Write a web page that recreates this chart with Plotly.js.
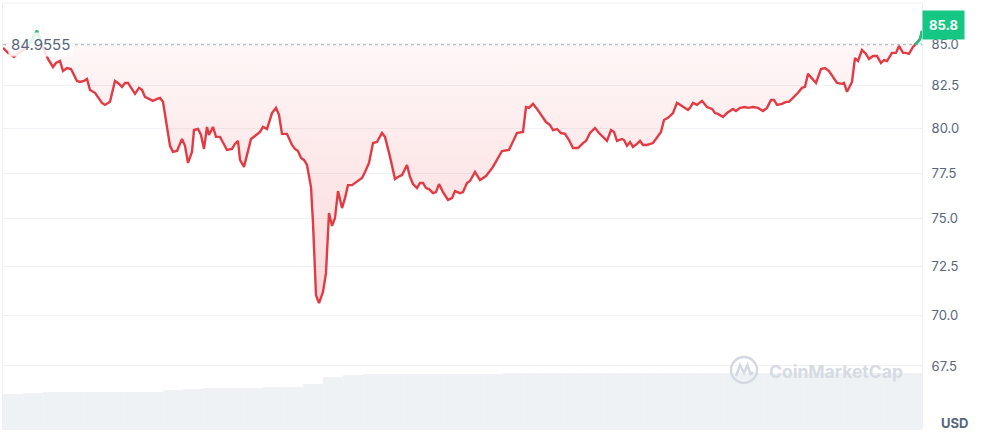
<!DOCTYPE html>
<html><head><meta charset="utf-8">
<script src="https://cdn.plot.ly/plotly-3.0.1.min.js"></script>
<style>html,body{margin:0;padding:0;background:#fff}#chart{width:984px;height:436px}</style>
</head><body><div id="chart"></div>
<script>
// reference (open) price
const basePrice = 84.9555;
const lastLabel = '85.8';
// time (arbitrary units across the window)
const time = [0,5,11,17,23,26,29,34,39,45,50,53,57,60,64,68,70,74,77,81,84,87,92,95,99,102,107,112,115,119,122,125,129,132,136,139,142,146,150,154,157,160,163,167,170,174,179,182,185,189,191,195,198,201,204,206,210,213,217,220,224,229,232,235,237,241,248,252,257,260,264,269,273,276,279,284,289,292,295,298,301,304,308,310,313,316,320,323,326,329,332,335,339,342,345,349,352,355,359,362,366,370,374,379,382,387,392,395,399,404,407,410,414,417,420,423,426,430,433,436,440,445,449,452,457,460,464,467,472,477,483,490,494,499,506,510,514,520,523,526,530,534,539,543,547,550,554,558,562,566,570,575,580,583,587,592,596,600,604,608,611,614,619,621,624,627,630,634,637,640,644,650,654,658,661,665,670,674,679,685,687,690,694,699,704,709,712,715,720,724,730,733,737,742,745,750,755,760,764,768,771,774,779,783,786,791,795,799,802,805,809,813,818,822,826,830,834,839,841,844,849,852,855,859,863,866,870,874,878,881,884,889,893,896,900,903,906,910,912,914,917,919];
// price in USD
const price = [84.76,84.46,84.21,84.52,84.76,84.96,85.24,85.80,84.96,84.09,83.61,83.85,83.97,83.37,83.55,83.49,83.25,82.78,82.72,82.78,82.90,82.25,82.08,81.84,81.49,81.37,81.55,82.78,82.66,82.43,82.66,82.66,82.25,82.02,82.37,82.25,81.84,81.72,81.61,81.72,81.78,81.55,80.50,79.02,78.68,78.73,79.41,79.02,78.06,78.68,79.92,79.98,79.64,78.85,80.10,79.64,80.10,79.53,79.53,79.24,78.79,78.85,79.13,79.30,78.23,77.84,79.41,79.58,79.81,80.10,79.98,80.90,81.20,80.79,79.70,79.70,79.07,78.85,78.73,78.34,78.23,77.95,76.72,74.78,71.01,70.61,71.17,72.15,75.31,74.62,75.04,76.50,75.58,76.12,76.83,76.83,76.95,77.06,77.22,77.56,78.06,79.18,79.24,79.75,79.53,78.40,77.17,77.28,77.39,77.95,77.28,76.89,76.67,76.95,76.95,76.67,76.61,76.39,76.45,76.89,76.45,76.02,76.12,76.50,76.39,76.45,76.95,77.06,77.56,77.11,77.33,77.84,78.23,78.73,78.79,79.24,79.75,79.81,81.25,81.20,81.43,81.14,80.73,80.38,80.21,79.92,79.98,79.75,79.70,79.35,78.90,78.90,79.18,79.30,79.75,80.04,79.75,79.53,79.30,79.92,79.81,79.30,79.41,79.35,79.02,79.24,78.96,79.13,79.30,79.07,79.07,79.18,79.53,79.81,80.50,80.62,80.90,81.49,81.31,81.08,81.20,81.49,81.37,81.61,81.25,81.14,80.90,80.85,80.67,80.90,81.14,81.02,81.20,81.25,81.20,81.25,81.20,81.02,81.20,81.66,81.66,81.37,81.43,81.55,81.55,81.84,82.08,82.37,82.43,83.20,82.96,82.66,83.49,83.55,83.37,83.02,82.66,82.61,82.66,82.14,82.72,84.15,83.97,84.64,84.40,84.09,84.27,84.27,83.85,84.03,83.97,84.46,84.46,84.88,84.46,84.46,84.40,84.82,84.96,85.06,85.30,85.80];
// volume backdrop
const volTime = [10,30,50,70,90,110,130,150,170,190,210,230,250,270,290,310,330,350,370,390,410,430,450,470,490,510,530,550,570,590,610,630,650,670,690,710,730,750,770,790,810,830,850,870,890,910];
const volume = [36,37,38,38,38,38,38,38,40,41,42,42,42,43,43,46,53,55,56,56,56,56,56,56,56,57,57,57,57,57,57,57,57,57,57,57,57,57,57,57,57,57,57,57,57,57];
const yTicks = [67.5,70,72.5,75,77.5,80,82.5,85];

const RED = '#e23b44', GREEN = '#16c784';
const below = price.map(v => Math.min(v, basePrice));
const above = price.map(v => Math.max(v, basePrice));
const greenLine = price.map(v => v >= basePrice ? v : null);
const baseX = [time[0], time[time.length-1]];
const baseY = [basePrice, basePrice];

const traces = [
  {x: volTime, y: volume, type:'bar', yaxis:'y2', marker:{color:'#eff2f5', line:{color:'rgba(255,255,255,0.35)', width:0.4}}, hoverinfo:'skip'},
  {x: baseX, y: baseY, mode:'lines', line:{color:'#a3acba', width:1, dash:'dot'}, hoverinfo:'skip'},
  {x: time, y: below, mode:'lines', line:{width:0}, fill:'tonexty',
   fillgradient:{type:'vertical', colorscale:[[0,'rgba(234,57,67,0.20)'],[1,'rgba(234,57,67,0.04)']]}, hoverinfo:'skip'},
  {x: baseX, y: baseY, mode:'lines', line:{width:0, color:'rgba(0,0,0,0)'}, hoverinfo:'skip'},
  {x: time, y: above, mode:'lines', line:{width:0}, fill:'tonexty', fillcolor:'rgba(22,199,132,0.10)', hoverinfo:'skip'},
  {x: time, y: price, mode:'lines', line:{color:RED, width:2.4}, hoverinfo:'skip'},
  {x: time, y: greenLine, mode:'lines', connectgaps:false, line:{color:GREEN, width:2.4}, hoverinfo:'skip'}
];

const px = p => (p - 3) / 919;
const py = p => (430 - p) / 427;

const layout = {
  width:984, height:436,
  margin:{l:3, r:62, t:3, b:6},
  paper_bgcolor:'#ffffff', plot_bgcolor:'#ffffff',
  showlegend:false,
  font:{family:'Inter, "Open Sans", sans-serif', color:'#58667e'},
  bargap:0,
  xaxis:{range:[0,919], showgrid:false, zeroline:false, showticklabels:false, showline:false, fixedrange:true},
  yaxis:{type:'log', range:[1.80940, 1.94216], side:'right', tickvals:yTicks, tickformat:'.1f',
         ticks:'outside', ticklen:6, tickcolor:'rgba(0,0,0,0)', showgrid:true, gridcolor:'#f0f2f5', gridwidth:1,
         zeroline:false, showline:true, linecolor:'#eceff3', mirror:true, tickfont:{size:13, color:'#58667e'}},
  yaxis2:{overlaying:'y', range:[0,427], visible:false, fixedrange:true},
  shapes:[
    {type:'line', xref:'paper', yref:'paper', x0:0, x1:1, y0:1, y1:1, line:{color:'#eceff3', width:1}},
    {type:'circle', xref:'paper', yref:'paper', x0:px(731), x1:px(757), y0:py(383), y1:py(357), line:{color:'#d3d9e2', width:2.4}},
    {type:'path', xref:'paper', yref:'paper',
     path:`M ${px(736)} ${py(376)} L ${px(740)} ${py(365)} L ${px(744)} ${py(373)} L ${px(747.5)} ${py(365)} L ${px(750.5)} ${py(374)} L ${px(753)} ${py(372)}`,
     line:{color:'#d3d9e2', width:2.4}}
  ],
  annotations:[
    {xref:'paper', yref:'y', x:px(8), y:Math.log10(basePrice), xanchor:'left', yanchor:'middle', showarrow:false,
     text:basePrice.toString(), font:{size:15, color:'#58667e'}, bgcolor:'rgba(255,255,255,0.85)', borderpad:2},
    {xref:'paper', yref:'y', x:1, y:Math.log10(price[price.length-1]), xanchor:'left', yanchor:'middle', yshift:6, showarrow:false,
     text:'<b>'+lastLabel+'</b>', font:{size:13, color:'#ffffff'}, bgcolor:GREEN, borderpad:6},
    {xref:'paper', yref:'paper', x:1, y:py(423), xanchor:'left', yanchor:'middle', xshift:17, showarrow:false,
     text:'<b>USD</b>', font:{size:13, color:'#58667e'}},
    {xref:'paper', yref:'paper', x:px(767), y:py(371), xanchor:'left', yanchor:'middle', showarrow:false,
     text:'<b>CoinMarketCap</b>', font:{size:17.5, color:'#d6dbe3'}}
  ]
};

Plotly.newPlot('chart', traces, layout, {staticPlot:true, displayModeBar:false});
</script></body></html>
